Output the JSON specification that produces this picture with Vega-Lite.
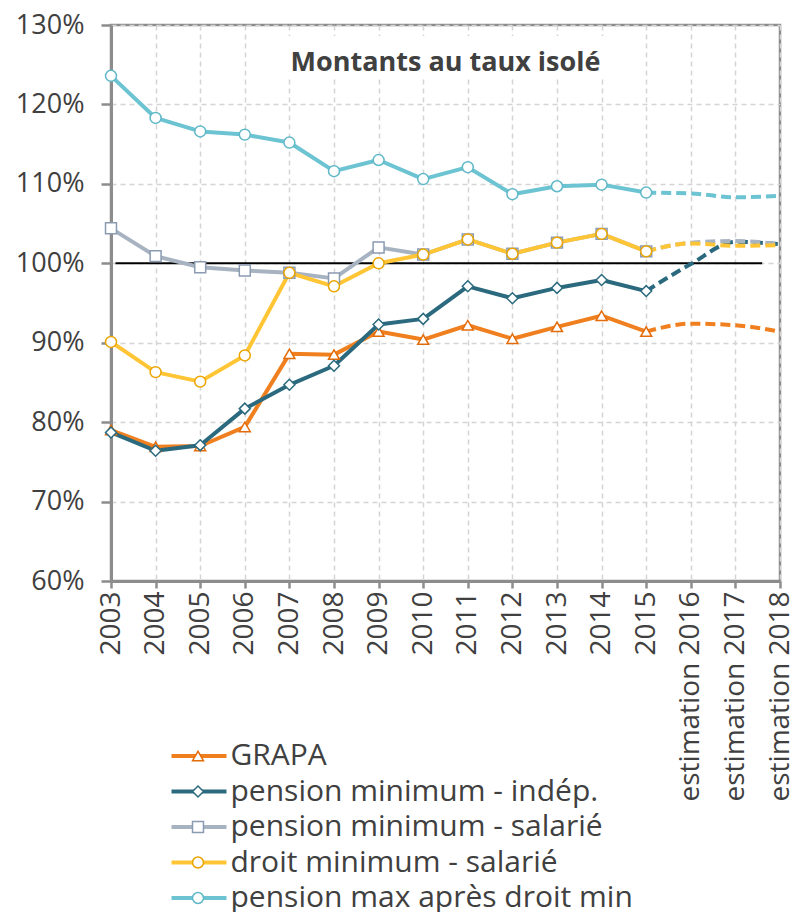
{
  "$schema": "https://vega.github.io/schema/vega-lite/v6.json",
  "autosize": {"type": "none"},
  "width": 669,
  "height": 556,
  "padding": {"left": 111, "top": 25, "right": 15, "bottom": 331},
  "background": "white",
  "config": {
    "font": "Open Sans",
    "view": {"stroke": "#8c8c8c", "strokeWidth": 2.5},
    "axis": {"labelFont": "Open Sans", "labelColor": "#404040", "gridColor": "#d4d4d4", "gridDash": [5, 4], "gridWidth": 1.5, "domainColor": "#8c8c8c", "domainWidth": 3, "tickColor": "#8c8c8c", "tickWidth": 2.5, "title": null}
  },
  "data": {"values": [
    {"serie": "GRAPA", "annee": 2003, "valeur": 79.0},
    {"serie": "GRAPA", "annee": 2004, "valeur": 76.9},
    {"serie": "GRAPA", "annee": 2005, "valeur": 77.0},
    {"serie": "GRAPA", "annee": 2006, "valeur": 79.4},
    {"serie": "GRAPA", "annee": 2007, "valeur": 88.6},
    {"serie": "GRAPA", "annee": 2008, "valeur": 88.5},
    {"serie": "GRAPA", "annee": 2009, "valeur": 91.4},
    {"serie": "GRAPA", "annee": 2010, "valeur": 90.4},
    {"serie": "GRAPA", "annee": 2011, "valeur": 92.2},
    {"serie": "GRAPA", "annee": 2012, "valeur": 90.5},
    {"serie": "GRAPA", "annee": 2013, "valeur": 92.0},
    {"serie": "GRAPA", "annee": 2014, "valeur": 93.4},
    {"serie": "GRAPA", "annee": 2015, "valeur": 91.4},
    {"serie": "GRAPA", "annee": 2016, "valeur": 92.4},
    {"serie": "GRAPA", "annee": 2017, "valeur": 92.2},
    {"serie": "GRAPA", "annee": 2018, "valeur": 91.4},
    {"serie": "pension minimum - indép.", "annee": 2003, "valeur": 78.7},
    {"serie": "pension minimum - indép.", "annee": 2004, "valeur": 76.4},
    {"serie": "pension minimum - indép.", "annee": 2005, "valeur": 77.1},
    {"serie": "pension minimum - indép.", "annee": 2006, "valeur": 81.7},
    {"serie": "pension minimum - indép.", "annee": 2007, "valeur": 84.7},
    {"serie": "pension minimum - indép.", "annee": 2008, "valeur": 87.1},
    {"serie": "pension minimum - indép.", "annee": 2009, "valeur": 92.3},
    {"serie": "pension minimum - indép.", "annee": 2010, "valeur": 93.0},
    {"serie": "pension minimum - indép.", "annee": 2011, "valeur": 97.1},
    {"serie": "pension minimum - indép.", "annee": 2012, "valeur": 95.6},
    {"serie": "pension minimum - indép.", "annee": 2013, "valeur": 96.9},
    {"serie": "pension minimum - indép.", "annee": 2014, "valeur": 97.9},
    {"serie": "pension minimum - indép.", "annee": 2015, "valeur": 96.5},
    {"serie": "pension minimum - indép.", "annee": 2016, "valeur": 99.9},
    {"serie": "pension minimum - indép.", "annee": 2017, "valeur": 102.7},
    {"serie": "pension minimum - indép.", "annee": 2018, "valeur": 102.4},
    {"serie": "pension minimum - salarié", "annee": 2003, "valeur": 104.4},
    {"serie": "pension minimum - salarié", "annee": 2004, "valeur": 100.9},
    {"serie": "pension minimum - salarié", "annee": 2005, "valeur": 99.5},
    {"serie": "pension minimum - salarié", "annee": 2006, "valeur": 99.1},
    {"serie": "pension minimum - salarié", "annee": 2007, "valeur": 98.8},
    {"serie": "pension minimum - salarié", "annee": 2008, "valeur": 98.1},
    {"serie": "pension minimum - salarié", "annee": 2009, "valeur": 102.0},
    {"serie": "pension minimum - salarié", "annee": 2010, "valeur": 101.1},
    {"serie": "pension minimum - salarié", "annee": 2011, "valeur": 103.0},
    {"serie": "pension minimum - salarié", "annee": 2012, "valeur": 101.2},
    {"serie": "pension minimum - salarié", "annee": 2013, "valeur": 102.6},
    {"serie": "pension minimum - salarié", "annee": 2014, "valeur": 103.7},
    {"serie": "pension minimum - salarié", "annee": 2015, "valeur": 101.5},
    {"serie": "pension minimum - salarié", "annee": 2016, "valeur": 102.6},
    {"serie": "pension minimum - salarié", "annee": 2017, "valeur": 102.8},
    {"serie": "pension minimum - salarié", "annee": 2018, "valeur": 102.4},
    {"serie": "droit minimum - salarié", "annee": 2003, "valeur": 90.1},
    {"serie": "droit minimum - salarié", "annee": 2004, "valeur": 86.3},
    {"serie": "droit minimum - salarié", "annee": 2005, "valeur": 85.1},
    {"serie": "droit minimum - salarié", "annee": 2006, "valeur": 88.4},
    {"serie": "droit minimum - salarié", "annee": 2007, "valeur": 98.8},
    {"serie": "droit minimum - salarié", "annee": 2008, "valeur": 97.1},
    {"serie": "droit minimum - salarié", "annee": 2009, "valeur": 100.0},
    {"serie": "droit minimum - salarié", "annee": 2010, "valeur": 101.1},
    {"serie": "droit minimum - salarié", "annee": 2011, "valeur": 103.0},
    {"serie": "droit minimum - salarié", "annee": 2012, "valeur": 101.2},
    {"serie": "droit minimum - salarié", "annee": 2013, "valeur": 102.6},
    {"serie": "droit minimum - salarié", "annee": 2014, "valeur": 103.7},
    {"serie": "droit minimum - salarié", "annee": 2015, "valeur": 101.5},
    {"serie": "droit minimum - salarié", "annee": 2016, "valeur": 102.5},
    {"serie": "droit minimum - salarié", "annee": 2017, "valeur": 102.2},
    {"serie": "droit minimum - salarié", "annee": 2018, "valeur": 102.3},
    {"serie": "pension max après droit min", "annee": 2003, "valeur": 123.6},
    {"serie": "pension max après droit min", "annee": 2004, "valeur": 118.3},
    {"serie": "pension max après droit min", "annee": 2005, "valeur": 116.6},
    {"serie": "pension max après droit min", "annee": 2006, "valeur": 116.2},
    {"serie": "pension max après droit min", "annee": 2007, "valeur": 115.2},
    {"serie": "pension max après droit min", "annee": 2008, "valeur": 111.6},
    {"serie": "pension max après droit min", "annee": 2009, "valeur": 113.0},
    {"serie": "pension max après droit min", "annee": 2010, "valeur": 110.6},
    {"serie": "pension max après droit min", "annee": 2011, "valeur": 112.1},
    {"serie": "pension max après droit min", "annee": 2012, "valeur": 108.7},
    {"serie": "pension max après droit min", "annee": 2013, "valeur": 109.7},
    {"serie": "pension max après droit min", "annee": 2014, "valeur": 109.9},
    {"serie": "pension max après droit min", "annee": 2015, "valeur": 108.9},
    {"serie": "pension max après droit min", "annee": 2016, "valeur": 108.8},
    {"serie": "pension max après droit min", "annee": 2017, "valeur": 108.3},
    {"serie": "pension max après droit min", "annee": 2018, "valeur": 108.5}
  ]},
  "encoding": {
    "x": {"field": "annee", "type": "quantitative",
      "scale": {"domain": [2003, 2018], "nice": false, "zero": false},
      "axis": {"values": [2003, 2004, 2005, 2006, 2007, 2008, 2009, 2010, 2011, 2012, 2013, 2014, 2015, 2016, 2017, 2018],
        "labelExpr": "datum.value >= 2016 ? 'estimation ' + datum.value : '' + datum.value",
        "labelAngle": -90, "labelFontSize": 28, "labelPadding": 3, "tickSize": 7, "labelFlush": false, "labelOverlap": false, "labelBound": false, "labelLimit": 400}},
    "y": {"field": "valeur", "type": "quantitative",
      "scale": {"domain": [60, 130], "nice": false, "zero": false},
      "axis": {"values": [60, 70, 80, 90, 100, 110, 120, 130], "labelExpr": "datum.value + '%'", "labelFontSize": 27, "tickSize": 10, "labelPadding": 17, "labelFlush": false, "labelOverlap": false}}
  },
  "layer": [
    {
      "data": {"values": [{"x1": 2006.8, "x2": 2014.6, "y1": 123.3, "y2": 128.6}]},
      "mark": {"type": "rect", "color": "white"},
      "encoding": {
        "x": {"field": "x1", "type": "quantitative"},
        "x2": {"field": "x2"},
        "y": {"field": "y1", "type": "quantitative"},
        "y2": {"field": "y2"}
      }
    },
    {
      "data": {"values": [{"titre": "Montants au taux isolé", "xt": 2010.5, "yt": 124.2}]},
      "mark": {"type": "text", "font": "Open Sans", "fontSize": 27, "fontWeight": "bold", "color": "#404040", "align": "center", "baseline": "alphabetic"},
      "encoding": {
        "x": {"field": "xt", "type": "quantitative"},
        "y": {"field": "yt", "type": "quantitative"},
        "text": {"field": "titre"}
      }
    },
    {
      "data": {"values": [{"debut": 2003.1, "fin": 2017.6, "niveau": 100}]},
      "mark": {"type": "rule", "color": "black", "strokeWidth": 2},
      "encoding": {
        "x": {"field": "debut", "type": "quantitative"},
        "x2": {"field": "fin"},
        "y": {"field": "niveau", "type": "quantitative"}
      }
    },
    {
      "transform": [{"filter": "datum.annee <= 2015"}],
      "mark": {"type": "line", "strokeWidth": 4, "strokeJoin": "round"},
      "encoding": {
        "color": {"field": "serie", "type": "nominal",
          "scale": {"domain": ["GRAPA", "pension minimum - indép.", "pension minimum - salarié", "droit minimum - salarié", "pension max après droit min"],
                    "range": ["#F0801F", "#2B6A7E", "#A8B3C2", "#FFC535", "#6CC3D2"]},
          "legend": {"orient": "none", "legendX": 73, "legendY": 716, "title": null, "symbolType": "M-3,0H3", "symbolSize": 336, "symbolStrokeWidth": 4, "labelOffset": 16.5, "labelFontSize": 30, "labelFont": "Open Sans", "labelColor": "#404040", "labelLimit": 600, "rowPadding": 5.5, "padding": 0}}
      }
    },
    {
      "transform": [{"filter": "datum.annee >= 2015"}],
      "mark": {"type": "line", "strokeWidth": 4, "strokeDash": [10, 5], "interpolate": "monotone"},
      "encoding": {
        "color": {"field": "serie", "type": "nominal", "legend": null}
      }
    },
    {
      "transform": [{"filter": "datum.annee <= 2015"}],
      "mark": {"type": "point", "filled": true, "fill": "white", "strokeWidth": 1.5, "size": 120, "opacity": 1},
      "encoding": {
        "stroke": {"field": "serie", "type": "nominal",
          "scale": {"domain": ["pension max après droit min", "droit minimum - salarié", "pension minimum - salarié", "pension minimum - indép.", "GRAPA"],
                    "range": ["#5FB8C8", "#E9A400", "#8A9BB2", "#2B6A7E", "#E36C09"]},
          "legend": {"orient": "none", "legendX": 72, "legendY": 716, "title": null,
            "values": ["GRAPA", "pension minimum - indép.", "pension minimum - salarié", "droit minimum - salarié", "pension max après droit min"],
            "symbolSize": 120, "symbolStrokeWidth": 1.5, "symbolFillColor": "white", "labelFontSize": 30, "labelFont": "Open Sans", "labelExpr": "''", "labelLimit": 600, "rowPadding": 5.5, "padding": 0}},
        "shape": {"field": "serie", "type": "nominal",
          "scale": {"domain": ["pension max après droit min", "droit minimum - salarié", "pension minimum - salarié", "pension minimum - indép.", "GRAPA"],
                    "range": ["circle", "circle", "square", "diamond", "triangle-up"]},
          "legend": {"orient": "none", "legendX": 72, "legendY": 716, "title": null,
            "values": ["GRAPA", "pension minimum - indép.", "pension minimum - salarié", "droit minimum - salarié", "pension max après droit min"],
            "symbolSize": 120, "symbolStrokeWidth": 1.5, "symbolFillColor": "white", "labelFontSize": 30, "labelFont": "Open Sans", "labelExpr": "''", "labelLimit": 600, "rowPadding": 5.5, "padding": 0}
        }
      }
    }
  ]
}
